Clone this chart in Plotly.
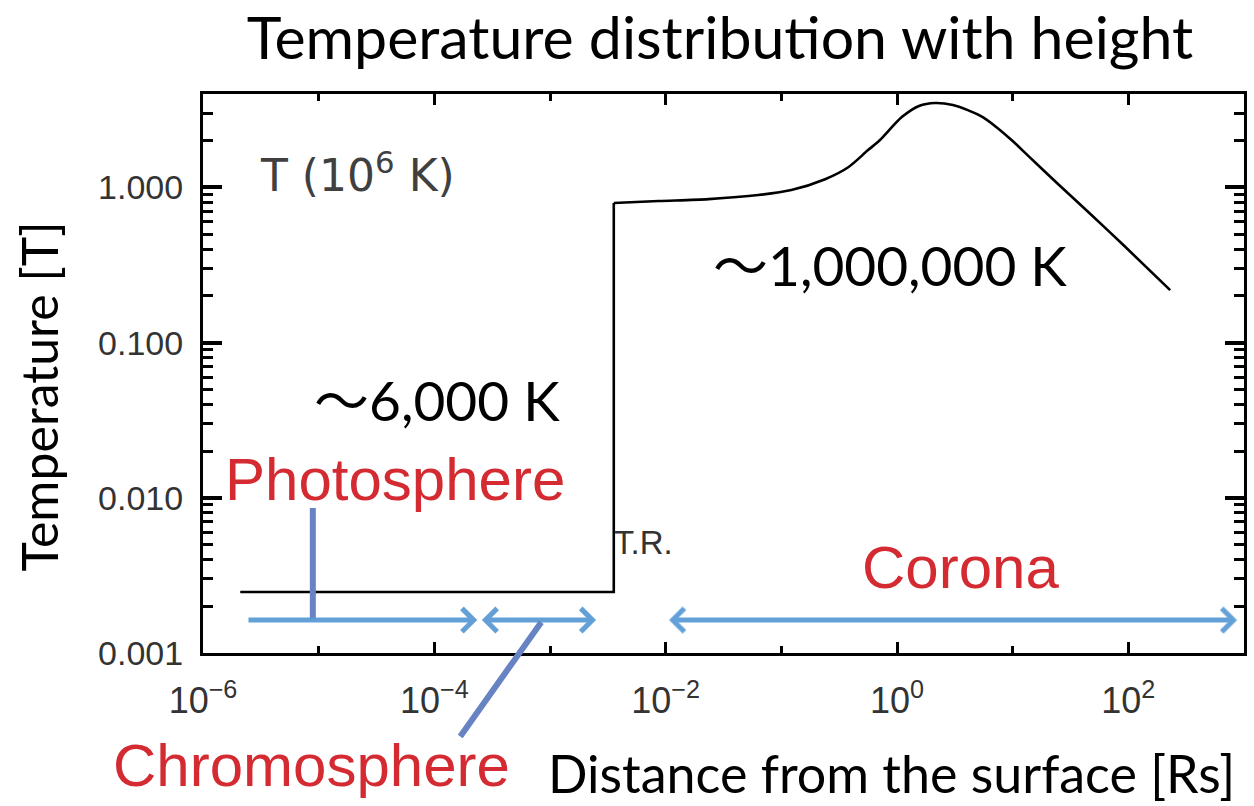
import numpy as np
import plotly.graph_objects as go

# Temperature profile (10^6 K) against height above the solar surface (Rs)
height_low = [2.1e-6, 3.56e-3, 3.56e-3]
temp_low = [0.00247, 0.00247, 0.793]

height_corona = [3.56e-3, 0.00871, 0.0235, 0.0634, 0.122, 0.239, 0.379, 0.562, 0.713,
                 1.10, 1.55, 2.13, 3.04, 4.09, 5.51, 7.43, 10.0, 13.5, 24.4, 47.0,
                 92.5, 230]
temp_corona = [0.793, 0.817, 0.841, 0.893, 0.962, 1.13, 1.35, 1.74, 2.02,
               2.84, 3.35, 3.50, 3.40, 3.15, 2.84, 2.41, 1.99, 1.61, 1.06, 0.675,
               0.419, 0.218]

# Region extents (Rs) shown as arrows along the bottom of the plot
arrow_level = 0.00163
photosphere_span = [2.4e-6, 2.35e-4]
chromosphere_span = [2.5e-4, 2.5e-3]
corona_span = [0.0104, 870]

# Pointer lines from the labels to the arrows
photo_pointer_x = [8.9e-6, 8.9e-6]
photo_pointer_y = [0.0086, 0.00163]
chromo_pointer_x = [8.4e-4, 1.64e-4]
chromo_pointer_y = [0.00158, 2.83e-4]

x_major = [1e-6, 1e-4, 1e-2, 1e0, 1e2]
x_major_text = ["10<sup>−6</sup>", "10<sup>−4</sup>", "10<sup>−2</sup>",
                "10<sup>0</sup>", "10<sup>2</sup>"]
x_minor = [1e-5, 1e-3, 1e-1, 1e1, 1e3]

ARROW_BLUE = "#5b9bd5"
POINTER_BLUE = "#6783c4"
RED = "#d42a31"
SANS = "Liberation Sans, Arial, sans-serif"
BODY = "Lato, sans-serif"
WAVE = "<span style='font-family:Noto Sans CJK JP'>〜</span>"

fig = go.Figure()
fig.add_trace(go.Scatter(x=height_low, y=temp_low, mode="lines",
                         line=dict(color="black", width=2.6), showlegend=False))
fig.add_trace(go.Scatter(x=height_corona, y=temp_corona, mode="lines",
                         line=dict(color="black", width=2.6, shape="spline", smoothing=0.8),
                         showlegend=False))
fig.add_trace(go.Scatter(x=photo_pointer_x, y=photo_pointer_y, mode="lines",
                         line=dict(color=POINTER_BLUE, width=6), showlegend=False))

lg = np.log10

def span_arrow(span, both):
    return dict(x=lg(span[1]), y=lg(arrow_level), ax=lg(span[0]), ay=lg(arrow_level),
                xref="x", yref="y", axref="x", ayref="y", text="", showarrow=True,
                arrowhead=4, startarrowhead=4, arrowsize=0.9, startarrowsize=0.9,
                arrowwidth=5, arrowcolor=ARROW_BLUE, opacity=0.95,
                arrowside="end+start" if both else "end", standoff=0, startstandoff=0)

annotations = [
    span_arrow(photosphere_span, False),
    span_arrow(chromosphere_span, True),
    span_arrow(corona_span, True),
    dict(x=lg(chromo_pointer_x[0]), y=lg(chromo_pointer_y[0]),
         ax=lg(chromo_pointer_x[1]), ay=lg(chromo_pointer_y[1]),
         xref="x", yref="y", axref="x", ayref="y", text="", showarrow=True,
         arrowhead=0, arrowwidth=6, arrowcolor=POINTER_BLUE, standoff=0),
    dict(x=0.0527, y=0.860, xref="paper", yref="paper", xanchor="left", yanchor="middle",
         text="T (10<sup>6</sup> K)", showarrow=False,
         font=dict(family="DejaVu Sans", size=44, color="#404040")),
    dict(x=0.3927, y=0.197, xref="paper", yref="paper", xanchor="left", yanchor="middle",
         text="T.R.", showarrow=False, font=dict(family=SANS, size=33, color="#333333")),
    dict(x=0.4876, y=0.6995, xref="paper", yref="paper", xanchor="left", yanchor="middle",
         text=WAVE + "1,000,000 K", showarrow=False,
         font=dict(family=BODY, size=55, color="black")),
    dict(x=0.1044, y=0.458, xref="paper", yref="paper", xanchor="left", yanchor="middle",
         text=WAVE + "6,000 K", showarrow=False,
         font=dict(family=BODY, size=55, color="black")),
    dict(x=0.1849, y=0.3095, xref="paper", yref="paper", xanchor="center", yanchor="middle",
         text="Photosphere", showarrow=False, font=dict(family=SANS, size=60, color=RED)),
    dict(x=0.728, y=0.1538, xref="paper", yref="paper", xanchor="center", yanchor="middle",
         text="Corona", showarrow=False, font=dict(family=SANS, size=60, color=RED)),
    dict(x=0.1044, y=-0.2004, xref="paper", yref="paper", xanchor="center", yanchor="middle",
         text="Chromosphere", showarrow=False, font=dict(family=SANS, size=60, color=RED)),
    dict(x=0.9933, y=-0.2147, xref="paper", yref="paper", xanchor="right", yanchor="middle",
         text="Distance from the surface [Rs]", showarrow=False,
         font=dict(family=BODY, size=52, color="black")),
    dict(x=-0.158, y=0.458, xref="paper", yref="paper", xanchor="center", yanchor="middle",
         text="Temperature [T]", textangle=-90, showarrow=False,
         font=dict(family=BODY, size=50, color="black")),
]

fig.update_layout(
    width=1254, height=806,
    margin=dict(l=203, r=7, t=94, b=153),
    paper_bgcolor="white", plot_bgcolor="white",
    title=dict(text="Temperature distribution with height", x=720 / 1254, xanchor="center",
               y=1 - 38 / 806, yanchor="middle", yref="container",
               font=dict(family=BODY, size=59, color="black")),
    annotations=annotations,
    showlegend=False,
)
fig.update_xaxes(
    type="log", range=[-6, 3], showgrid=False, zeroline=False,
    showline=True, linewidth=3, linecolor="black", mirror="ticks",
    tickmode="array", tickvals=x_major, ticktext=x_major_text,
    ticks="inside", ticklen=11, tickwidth=3, tickcolor="black",
    tickfont=dict(family=SANS, size=36, color="#333333"), ticklabelstandoff=14,
    minor=dict(tickmode="array", tickvals=x_minor, ticks="inside", ticklen=7,
               tickwidth=3, tickcolor="black", showgrid=False),
)
fig.update_yaxes(
    type="log", range=[-3, np.log10(4)], showgrid=False, zeroline=False,
    showline=True, linewidth=3, linecolor="black", mirror="ticks",
    tickmode="linear", tick0=0, dtick=1, tickformat=".3f",
    ticks="inside", ticklen=19, tickwidth=3.5, tickcolor="black",
    tickfont=dict(family=SANS, size=34, color="#333333"), ticklabelstandoff=10,
    minor=dict(ticks="inside", dtick="D1", ticklen=10, tickwidth=3,
               tickcolor="black", showgrid=False),
)

fig.write_html("out.html")
